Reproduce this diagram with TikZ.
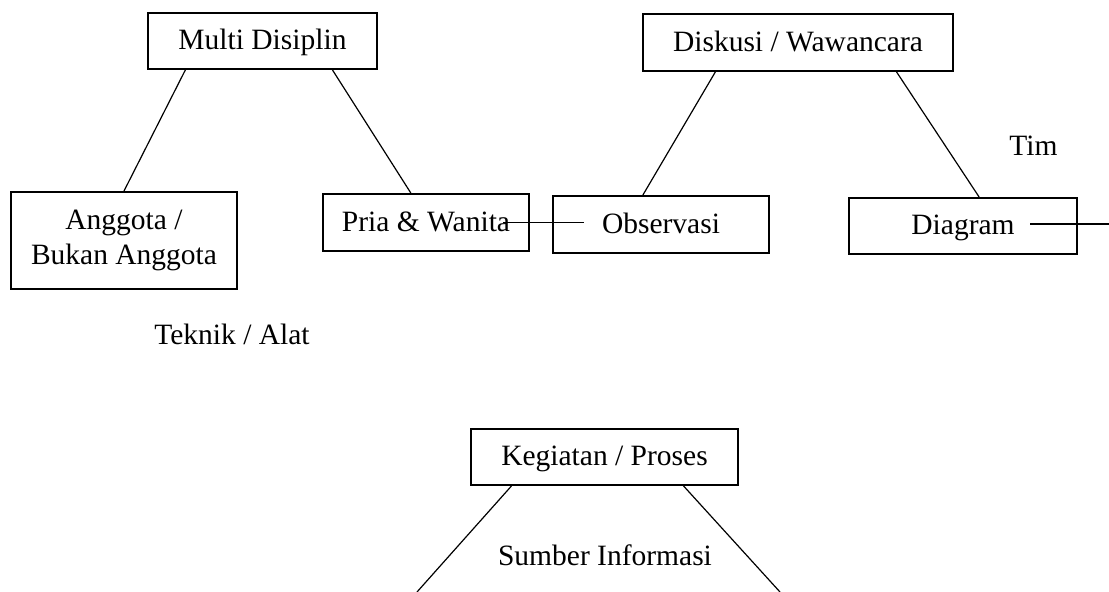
\documentclass[tikz,border=0pt]{standalone}
\usepackage{fontspec}
\setmainfont{Liberation Serif}
\usetikzlibrary{calc}
\begin{document}
\begin{tikzpicture}[x=0.5pt,y=-0.5pt,
  txt/.style={font=\fontsize{14.75}{17.5}\selectfont},
  box/.style={txt,draw,line width=1pt,inner sep=0pt,align=center},
  onebox/.style={box,text height=10pt,text depth=1.3pt},
  lbl/.style={txt,inner sep=0pt,anchor=base},
  conn/.style={line width=0.6pt}]
\useasboundingbox (0,0) rectangle (1109,592);
% boxes
\node[onebox,minimum width=114.5pt,minimum height=28pt] (multi) at (262.5,41) {Multi Disiplin};
\node[onebox,minimum width=155pt,minimum height=28.5pt] (disk) at (798,42.5) {Diskusi / Wawancara};
\node[box,minimum width=113pt,minimum height=48.5pt] (angg) at (124,240.5) {Anggota /\\Bukan Anggota};
\node[onebox,minimum width=103pt,minimum height=28.5pt] (pria) at (426,222.5) {Pria \& Wanita};
\node[onebox,minimum width=108pt,minimum height=28.5pt] (obs) at (661,224.5) {Observasi};
\node[onebox,minimum width=114pt,minimum height=28pt] (diag) at (963,226) {Diagram};
\node[onebox,minimum width=133.5pt,minimum height=28pt] (keg) at (604.5,457) {Kegiatan / Proses};
% free labels
\node[lbl] (tim) at (1033.5,156) {Tim};
\node[lbl] (teknik) at (232,345) {Teknik / Alat};
\node[lbl] (sumber) at (605,566) {Sumber Informasi};
% free ends
\coordinate (diagend) at (1109,224);
\coordinate (kegL) at (417,592);
\coordinate (kegR) at (780,592);
% connectors
\draw[conn] ($(multi.south west)!0.166!(multi.south east)$) -- (angg.north);
\draw[conn] ($(multi.south west)!0.803!(multi.south east)$) -- ($(pria.north west)!0.427!(pria.north east)$);
\draw[conn] ($(disk.south west)!0.235!(disk.south east)$) -- ($(obs.north west)!0.417!(obs.north east)$);
\draw[conn] ($(disk.south west)!0.816!(disk.south east)$) -- ($(diag.north west)!0.570!(diag.north east)$);
\draw[conn] ($(pria.east)+(-27,0)$) -- ($(obs.west)+(32,-2)$);
\draw[conn] ($(diag.east)+(-48,-2)$) -- (diagend);
\draw[conn] ($(keg.south west)!0.154!(keg.south east)$) -- (kegL);
\draw[conn] ($(keg.south west)!0.794!(keg.south east)$) -- (kegR);
\end{tikzpicture}
\end{document}
